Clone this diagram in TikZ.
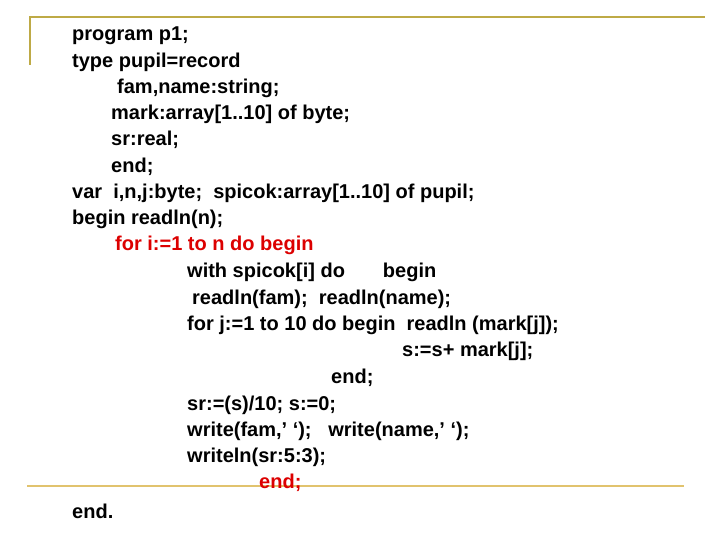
\documentclass[tikz,border=0pt]{standalone}
\usepackage{fontspec}
\setmainfont{Liberation Sans}
\definecolor{topline}{RGB}{190,170,70}
\definecolor{botline}{RGB}{225,195,110}
\definecolor{redtxt}{RGB}{220,0,0}
\begin{document}
\begin{tikzpicture}[x=1pt,y=-1pt,
  code/.style={anchor=west,inner sep=0pt,font=\fontsize{20}{22}\selectfont\bfseries},
  redcode/.style={code,text=redtxt}]
\useasboundingbox (0,0) rectangle (720,540);
\coordinate (t1) at (30,65); \coordinate (t2) at (30,17); \coordinate (t3) at (705,17);
\draw[topline,line width=1.5pt] (t1) -- (t2) -- (t3);
\coordinate (b1) at (27,486); \coordinate (b2) at (684,486);
\draw[botline,line width=2.5pt] (b1) -- (b2);
\node[code] (l1) at (72,36) {program p1;};
\node[code] (l2) at (72,62) {type pupil=record};
\node[code] (l3) at (117,88) {fam,name:string;};
\node[code] (l4) at (111,114) {mark:array[1..10] of byte;};
\node[code] (l5) at (111,140) {sr:real;};
\node[code] (l6) at (111,167) {end;};
\node[code] (l7) at (72,193) {var\ \ i,n,j:byte;\ \ spicok:array[1..10] of pupil;};
\node[code] (l8) at (72,219) {begin readln(n);};
\node[redcode] (l9) at (115,245) {for i:=1 to n do begin};
\node[code] (l10) at (187,272) {with spicok[i] do\hspace{38pt}begin};
\node[code] (l11) at (192,299) {readln(fam);\ \ readln(name);};
\node[code] (l12) at (187,325) {for j:=1 to 10 do begin\ \ readln (mark[j]);};
\node[code] (l13) at (402,351) {s:=s+ mark[j];};
\node[code] (l14) at (331,378) {end;};
\node[code] (l15) at (187,405) {sr:=(s)/10; s:=0;};
\node[code] (l16) at (187,431) {write(fam,’ ‘);\ \ \ write(name,’ ‘);};
\node[code] (l17) at (187,457) {writeln(sr:5:3);};
\node[redcode] (l18) at (259,483) {end;};
\node[code] (l19) at (72,511) {end.};
\end{tikzpicture}
\end{document}
